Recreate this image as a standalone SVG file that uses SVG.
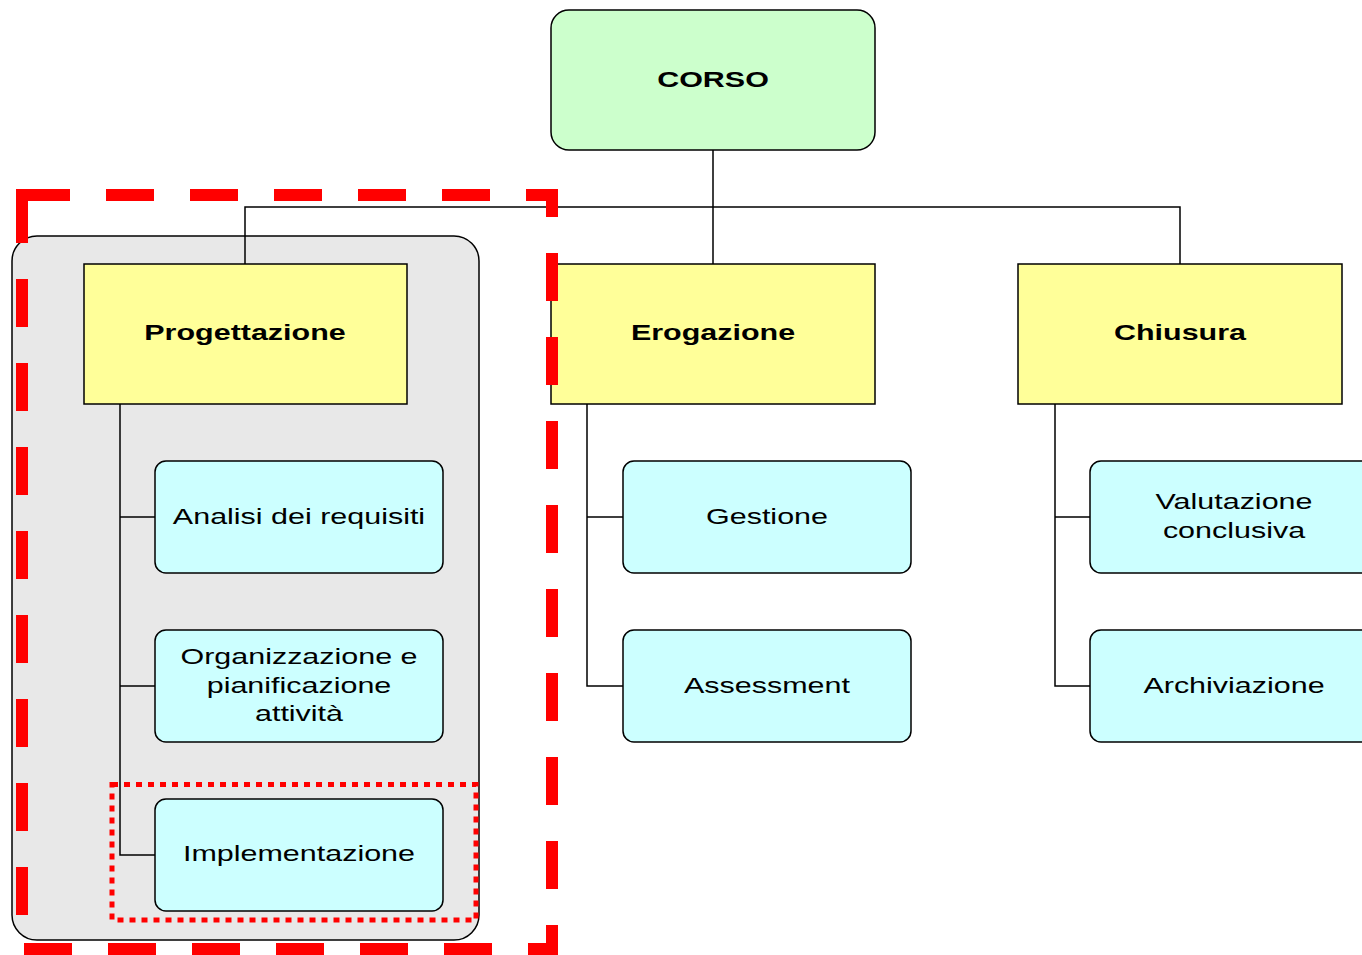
<svg xmlns="http://www.w3.org/2000/svg" width="1362" height="955" viewBox="0 0 1362 955">
<style>
.top{fill:#ffff99;stroke:#000;stroke-width:1.5}
.child{fill:#ccffff;stroke:#000;stroke-width:1.5}
.root{fill:#ccffcc;stroke:#000;stroke-width:1.5}
.conn{fill:none;stroke:#000;stroke-width:1.5}
.b{font-family:"Liberation Sans",Arial,sans-serif;font-size:23px;font-weight:bold;text-anchor:middle;dominant-baseline:central}
.t{font-family:"Liberation Sans",Arial,sans-serif;font-size:23px;text-anchor:middle;dominant-baseline:central}
</style>
<rect width="1362" height="955" fill="#fff"/>
<g id="group-bg"><rect x="12" y="236" width="467" height="704" rx="25" fill="#e8e8e8" stroke="#000" stroke-width="1.5"/></g>
<g id="connectors">
<path class="conn" d="M713 150V264M245 264V207H1180V264"/>
<path class="conn" d="M120 404V855H155M120 517H155M120 686H155"/>
<path class="conn" d="M587 404V686H623M587 517H623"/>
<path class="conn" d="M1055 404V686H1090M1055 517H1090"/>
</g>
<g id="corso"><rect class="root" x="551" y="10" width="324" height="140" rx="18"/><text class="b" transform="translate(713 79) scale(1.325 1)">CORSO</text></g>
<g id="progettazione"><rect class="top" x="84" y="264" width="323" height="140"/><text class="b" transform="translate(245 332) scale(1.325 1)">Progettazione</text></g>
<g id="erogazione"><rect class="top" x="551" y="264" width="324" height="140"/><text class="b" transform="translate(713 332) scale(1.325 1)">Erogazione</text></g>
<g id="chiusura"><rect class="top" x="1018" y="264" width="324" height="140"/><text class="b" transform="translate(1180 332) scale(1.325 1)">Chiusura</text></g>
<g id="analisi"><rect class="child" x="155" y="461" width="288" height="112" rx="11"/><text class="t" transform="translate(299 516) scale(1.325 1)">Analisi dei requisiti</text></g>
<g id="organizzazione"><rect class="child" x="155" y="630" width="288" height="112" rx="11"/><text class="t" transform="translate(299 656) scale(1.325 1)">Organizzazione e</text><text class="t" transform="translate(299 685) scale(1.325 1)">pianificazione</text><text class="t" transform="translate(299 713) scale(1.325 1)">attività</text></g>
<g id="implementazione"><rect class="child" x="155" y="799" width="288" height="112" rx="11"/><text class="t" transform="translate(299 853) scale(1.325 1)">Implementazione</text></g>
<g id="gestione"><rect class="child" x="623" y="461" width="288" height="112" rx="11"/><text class="t" transform="translate(767 516) scale(1.325 1)">Gestione</text></g>
<g id="assessment"><rect class="child" x="623" y="630" width="288" height="112" rx="11"/><text class="t" transform="translate(767 685) scale(1.325 1)">Assessment</text></g>
<g id="valutazione"><rect class="child" x="1090" y="461" width="288" height="112" rx="11"/><text class="t" transform="translate(1234 501) scale(1.325 1)">Valutazione</text><text class="t" transform="translate(1234 530) scale(1.325 1)">conclusiva</text></g>
<g id="archiviazione"><rect class="child" x="1090" y="630" width="288" height="112" rx="11"/><text class="t" transform="translate(1234 685) scale(1.325 1)">Archiviazione</text></g>
<g id="highlights">
<rect x="22" y="195" width="530" height="754" fill="none" stroke="#ff0000" stroke-width="12" stroke-dasharray="48 36"/>
<rect x="112" y="784.5" width="364" height="135.5" fill="none" stroke="#ff0000" stroke-width="5" stroke-dasharray="6 6"/>
</g>
</svg>
